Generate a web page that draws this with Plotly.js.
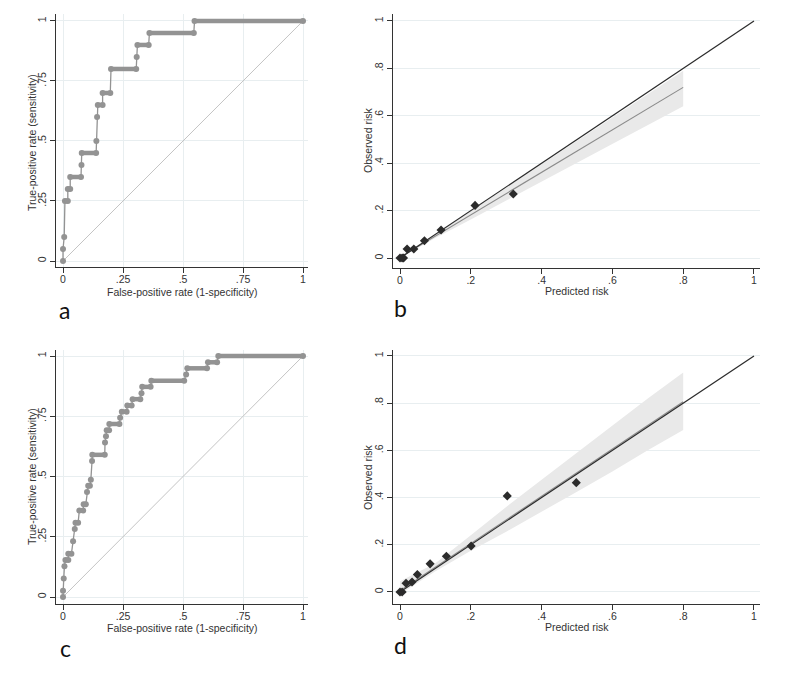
<!DOCTYPE html>
<html><head><meta charset="utf-8">
<script src="https://cdn.plot.ly/plotly-3.0.1.min.js"></script>
<style>html,body{margin:0;padding:0;background:#fff}#chart{width:800px;height:681px}</style>
</head><body><div id="chart"></div>
<script>
// ---------- DATA ----------
// Panel a: ROC curve vertices
const rocA_fpr = [0, 0, 0.005, 0.008, 0.02, 0.02, 0.03, 0.03, 0.075, 0.077, 0.078, 0.138, 0.139, 0.142, 0.145, 0.165, 0.165, 0.197, 0.2, 0.305, 0.307, 0.31, 0.357, 0.36, 0.545, 0.548, 1];
const rocA_tpr = [0, 0.05, 0.10, 0.25, 0.25, 0.30, 0.30, 0.35, 0.35, 0.40, 0.45, 0.45, 0.50, 0.60, 0.65, 0.65, 0.70, 0.70, 0.80, 0.80, 0.85, 0.90, 0.90, 0.95, 0.95, 1, 1];
// Panel c: ROC curve vertices
const rocC_fpr = [0, 0, 0.003, 0.006, 0.01, 0.022, 0.022, 0.035, 0.042, 0.049, 0.052, 0.063, 0.068, 0.084, 0.086, 0.095, 0.1, 0.105, 0.112, 0.116, 0.121, 0.122, 0.174, 0.175, 0.179, 0.182, 0.192, 0.193, 0.235, 0.238, 0.245, 0.265, 0.268, 0.286, 0.29, 0.322, 0.327, 0.33, 0.365, 0.368, 0.505, 0.513, 0.518, 0.6, 0.604, 0.642, 0.647, 1];
const rocC_tpr = [0, 0.026, 0.077, 0.128, 0.154, 0.154, 0.179, 0.179, 0.231, 0.282, 0.308, 0.308, 0.359, 0.359, 0.385, 0.385, 0.436, 0.462, 0.462, 0.487, 0.564, 0.590, 0.590, 0.641, 0.667, 0.692, 0.692, 0.718, 0.718, 0.744, 0.769, 0.769, 0.795, 0.795, 0.821, 0.821, 0.846, 0.872, 0.872, 0.897, 0.897, 0.923, 0.949, 0.949, 0.974, 0.974, 1, 1];

// Panel b: calibration
const calB_pred = [0, 0.006, 0.01, 0.02, 0.039, 0.069, 0.116, 0.212, 0.32];
const calB_obs  = [0, 0, 0, 0.038, 0.038, 0.073, 0.118, 0.222, 0.27];
const bandB_x     = [0, 0.1, 0.2, 0.3, 0.4, 0.5, 0.6, 0.7, 0.8];
const bandB_fit   = [0.003, 0.093, 0.183, 0.273, 0.363, 0.453, 0.543, 0.633, 0.72];
const bandB_upper = [0.008, 0.1, 0.198, 0.297, 0.395, 0.494, 0.593, 0.692, 0.79];
const bandB_lower = [0, 0.085, 0.163, 0.24, 0.32, 0.4, 0.48, 0.56, 0.64];

// Panel d: calibration
const calD_pred = [0, 0.006, 0.017, 0.034, 0.049, 0.085, 0.131, 0.201, 0.303, 0.498];
const calD_obs  = [0, 0, 0.037, 0.042, 0.074, 0.119, 0.151, 0.195, 0.407, 0.463];
const bandD_x     = [0, 0.1, 0.2, 0.3, 0.4, 0.5, 0.6, 0.7, 0.8];
const bandD_fit   = [0.005, 0.105, 0.205, 0.306, 0.406, 0.506, 0.606, 0.706, 0.806];
const bandD_upper = [0.045, 0.122, 0.24, 0.36, 0.475, 0.59, 0.705, 0.82, 0.93];
const bandD_lower = [-0.01, 0.088, 0.175, 0.255, 0.34, 0.425, 0.51, 0.6, 0.686];

// Reference line and ticks
const refLine = [0, 1];
const rocTicks = [0, 0.25, 0.5, 0.75, 1];
const rocTickText = ['0', '.25', '.5', '.75', '1'];
const calTicks = [0, 0.2, 0.4, 0.6, 0.8, 1];
const calTickText = ['0', '.2', '.4', '.6', '.8', '1'];

// ---------- BUILD ----------
const GREY = '#939393';
const DARK = '#2b2b2b';
const FONT = 'Liberation Sans, Arial, sans-serif';

function flatRuns(xs, ys) {
  const x = [], y = [];
  for (let i = 0; i < xs.length - 1; i++) {
    if (ys[i] === ys[i + 1]) { x.push(xs[i], xs[i + 1], null); y.push(ys[i], ys[i + 1], null); }
  }
  return {x, y};
}

function rocTraces(fpr, tpr, xa, ya) {
  const runs = flatRuns(fpr, tpr);
  return [
    {x: refLine, y: refLine, xaxis: xa, yaxis: ya, mode: 'lines', line: {color: '#c4c4c4', width: 1}, hoverinfo: 'skip'},
    {x: fpr, y: tpr, xaxis: xa, yaxis: ya, mode: 'lines', line: {color: GREY, width: 1.3}, hoverinfo: 'skip'},
    {x: runs.x, y: runs.y, xaxis: xa, yaxis: ya, mode: 'lines', line: {color: GREY, width: 4.5}, connectgaps: false, hoverinfo: 'skip'},
    {x: fpr, y: tpr, xaxis: xa, yaxis: ya, mode: 'markers', marker: {color: GREY, size: 6, symbol: 'circle'}, hoverinfo: 'skip'}
  ];
}

function calTraces(px, ob, bx, bfit, bup, blo, xa, ya) {
  return [
    {x: bx.concat(bx.slice().reverse()), y: bup.concat(blo.slice().reverse()), xaxis: xa, yaxis: ya,
     mode: 'lines', fill: 'toself', fillcolor: '#e9e9e9', line: {width: 0, color: 'rgba(0,0,0,0)'}, hoverinfo: 'skip'},
    {x: bx, y: bfit, xaxis: xa, yaxis: ya, mode: 'lines', line: {color: '#8a8a8a', width: 1.1}, hoverinfo: 'skip'},
    {x: refLine, y: refLine, xaxis: xa, yaxis: ya, mode: 'lines', line: {color: DARK, width: 1.2}, hoverinfo: 'skip'},
    {x: px, y: ob, xaxis: xa, yaxis: ya, mode: 'markers', marker: {color: DARK, size: 7, symbol: 'diamond'}, hoverinfo: 'skip'}
  ];
}

const data = [].concat(
  rocTraces(rocA_fpr, rocA_tpr, 'x', 'y'),
  calTraces(calB_pred, calB_obs, bandB_x, bandB_fit, bandB_upper, bandB_lower, 'x2', 'y2'),
  rocTraces(rocC_fpr, rocC_tpr, 'x3', 'y3'),
  calTraces(calD_pred, calD_obs, bandD_x, bandD_fit, bandD_upper, bandD_lower, 'x4', 'y4')
);

function axis(domain, range, tv, tt, grid, angle, anchor, standoff) {
  return {
    domain: domain, range: range, anchor: anchor, tickmode: 'array', tickvals: tv, ticktext: tt,
    showgrid: grid, gridcolor: '#e8eef0', gridwidth: 1, zeroline: false,
    showline: true, linecolor: '#333', linewidth: 1,
    ticks: 'outside', ticklen: 5, tickcolor: '#333', tickwidth: 1,
    ticklabelstandoff: standoff,
    tickfont: {family: FONT, size: 10.5, color: '#333'}, tickangle: angle, fixedrange: true
  };
}

const W = 800, H = 681;
const fx = p => p / W;
const fy = p => 1 - p / H;

const layout = {
  width: W, height: H,
  margin: {l: 0, r: 0, t: 0, b: 0},
  paper_bgcolor: '#ffffff', plot_bgcolor: '#ffffff',
  showlegend: false,
  xaxis:  axis([fx(56), fx(308)],  [-0.0292, 1.0208], rocTicks, rocTickText, true, 0, 'y', -3),
  yaxis:  axis([fy(267), fy(14)],  [-0.025, 1.029],   rocTicks, rocTickText, true, -90, 'x', 0),
  xaxis2: axis([fx(393), fx(760)], [-0.0198, 1.017],  calTicks, calTickText, false, 0, 'y2', -3),
  yaxis2: axis([fy(268), fy(14)],  [-0.042, 1.0295],  calTicks, calTickText, true, -90, 'x2', 0),
  xaxis3: axis([fx(56), fx(308)],  [-0.0292, 1.0208], rocTicks, rocTickText, true, 0, 'y3', -3),
  yaxis3: axis([fy(604), fy(350)], [-0.029, 1.025],   rocTicks, rocTickText, true, -90, 'x3', 0),
  xaxis4: axis([fx(393), fx(760)], [-0.0198, 1.017],  calTicks, calTickText, false, 0, 'y4', -3),
  yaxis4: axis([fy(604), fy(350)], [-0.051, 1.025],   calTicks, calTickText, true, -90, 'x4', 0),
  annotations: []
};

function ann(text, px, py, size, angle) {
  layout.annotations.push({
    text: text, xref: 'paper', yref: 'paper', x: fx(px), y: fy(py),
    xanchor: 'center', yanchor: 'middle', showarrow: false, textangle: angle,
    font: {family: FONT, size: size, color: '#333'}
  });
}

ann('False-positive rate (1-specificity)', 182, 292, 10.5, 0);
ann('True-positive rate (sensitivity)', 32, 143, 10.5, -90);
ann('Predicted risk', 577, 291, 10.5, 0);
ann('Observed risk', 368, 140, 10.5, -90);
ann('False-positive rate (1-specificity)', 182, 628, 10.5, 0);
ann('True-positive rate (sensitivity)', 32, 477, 10.5, -90);
ann('Predicted risk', 577, 627, 10.5, 0);
ann('Observed risk', 368, 477, 10.5, -90);

const LBL = 'Lato, Open Sans, sans-serif';
layout.annotations.push(
  {text: 'a', xref: 'paper', yref: 'paper', x: fx(64), y: fy(310), xanchor: 'center', yanchor: 'middle', showarrow: false, font: {family: LBL, size: 23, color: '#111'}},
  {text: 'b', xref: 'paper', yref: 'paper', x: fx(400), y: fy(308), xanchor: 'center', yanchor: 'middle', showarrow: false, font: {family: LBL, size: 23, color: '#111'}},
  {text: 'c', xref: 'paper', yref: 'paper', x: fx(65), y: fy(648), xanchor: 'center', yanchor: 'middle', showarrow: false, font: {family: LBL, size: 23, color: '#111'}},
  {text: 'd', xref: 'paper', yref: 'paper', x: fx(400), y: fy(645), xanchor: 'center', yanchor: 'middle', showarrow: false, font: {family: LBL, size: 23, color: '#111'}}
);

Plotly.newPlot('chart', data, layout, {staticPlot: true, displayModeBar: false});
</script>
</body></html>
